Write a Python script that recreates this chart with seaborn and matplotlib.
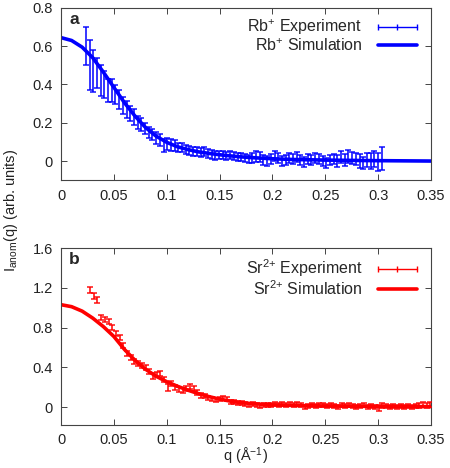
import numpy as np
import matplotlib
matplotlib.use("Agg")
import matplotlib.pyplot as plt
from matplotlib.lines import Line2D
import seaborn as sns

# simulation curves
q_sim = [0.00, 0.01, 0.02, 0.03, 0.04, 0.05, 0.06, 0.07, 0.08, 0.09,
         0.10, 0.11, 0.12, 0.13, 0.14, 0.15, 0.16, 0.17, 0.18, 0.19,
         0.20, 0.22, 0.25, 0.28, 0.30, 0.35]
rb_sim = [0.645, 0.630, 0.595, 0.540, 0.465, 0.385, 0.305, 0.235, 0.175, 0.130,
          0.098, 0.075, 0.060, 0.048, 0.040, 0.033, 0.027, 0.022, 0.018, 0.015,
          0.012, 0.008, 0.005, 0.003, 0.002, 0.000]
sr_sim = [1.030, 1.010, 0.965, 0.895, 0.810, 0.710, 0.580, 0.470, 0.380, 0.310,
          0.255, 0.210, 0.170, 0.135, 0.105, 0.080, 0.060, 0.045, 0.035, 0.028,
          0.022, 0.016, 0.011, 0.008, 0.006, 0.004]

# Rb+ experiment
q_rb = [0.0235, 0.0270, 0.0305, 0.0340, 0.0375, 0.0410, 0.0445, 0.0480, 0.0515, 0.0550,
        0.0585, 0.0620, 0.0655, 0.0690, 0.0725, 0.0760, 0.0795, 0.0830, 0.0865, 0.0900,
        0.0935, 0.0970, 0.1005, 0.1040, 0.1075, 0.1110, 0.1145, 0.1180, 0.1215, 0.1250,
        0.1285, 0.1320, 0.1355, 0.1390, 0.1425, 0.1460, 0.1495, 0.1530, 0.1565, 0.1600,
        0.1635, 0.1670, 0.1705, 0.1740, 0.1775, 0.1810, 0.1845, 0.1880, 0.1915, 0.1950,
        0.1985, 0.2020, 0.2055, 0.2090, 0.2125, 0.2160, 0.2195, 0.2230, 0.2265, 0.2300,
        0.2335, 0.2370, 0.2405, 0.2440, 0.2475, 0.2510, 0.2545, 0.2580, 0.2615, 0.2650,
        0.2685, 0.2720, 0.2755, 0.2790, 0.2825, 0.2860, 0.2895, 0.2930, 0.2965, 0.3000,
        0.3035]
rb_exp = [0.600, 0.500, 0.470, 0.460, 0.420, 0.400, 0.370, 0.370, 0.350, 0.320,
          0.290, 0.270, 0.250, 0.230, 0.200, 0.190, 0.170, 0.150, 0.140, 0.120,
          0.110, 0.080, 0.090, 0.085, 0.080, 0.070, 0.070, 0.060, 0.055, 0.050,
          0.050, 0.045, 0.050, 0.040, 0.035, 0.030, 0.030, 0.030, 0.025, 0.030,
          0.025, 0.020, 0.020, 0.015, 0.010, 0.015, 0.025, 0.020, 0.005, 0.000,
          0.010, 0.025, 0.015, 0.000, 0.005, 0.015, 0.010, 0.020, 0.005, -0.005,
          0.010, 0.005, 0.015, 0.010, 0.000, -0.010, 0.005, 0.010, 0.000, 0.020,
          0.005, 0.025, 0.015, 0.010, 0.000, -0.010, 0.005, 0.000, 0.010, -0.005,
          0.015]
rb_err = [0.100, 0.130, 0.110, 0.080, 0.080, 0.070, 0.060, 0.060, 0.050, 0.050,
          0.045, 0.045, 0.040, 0.040, 0.035, 0.035, 0.030, 0.030, 0.030, 0.030,
          0.030, 0.035, 0.030, 0.030, 0.030, 0.025, 0.025, 0.025, 0.025, 0.025,
          0.025, 0.022, 0.025, 0.025, 0.022, 0.022, 0.020, 0.020, 0.020, 0.020,
          0.020, 0.020, 0.020, 0.020, 0.020, 0.025, 0.030, 0.025, 0.025, 0.025,
          0.025, 0.025, 0.025, 0.025, 0.025, 0.025, 0.025, 0.025, 0.025, 0.025,
          0.025, 0.025, 0.025, 0.025, 0.025, 0.025, 0.025, 0.025, 0.030, 0.030,
          0.030, 0.035, 0.030, 0.030, 0.035, 0.030, 0.035, 0.040, 0.040, 0.045,
          0.060]

# Sr2+ experiment
q_sr = [0.0275, 0.0310, 0.0345, 0.0380, 0.0415, 0.0450, 0.0485, 0.0520, 0.0555, 0.0590,
        0.0625, 0.0660, 0.0695, 0.0730, 0.0765, 0.0800, 0.0835, 0.0870, 0.0905, 0.0940,
        0.0975, 0.1010, 0.1045, 0.1080, 0.1115, 0.1150, 0.1185, 0.1220, 0.1255, 0.1290,
        0.1325, 0.1360, 0.1395, 0.1430, 0.1465, 0.1500, 0.1535, 0.1570, 0.1605, 0.1640,
        0.1675, 0.1710, 0.1745, 0.1780, 0.1815, 0.1850, 0.1885, 0.1920, 0.1955, 0.1990,
        0.2025, 0.2060, 0.2095, 0.2130, 0.2165, 0.2200, 0.2235, 0.2270, 0.2305, 0.2340,
        0.2375, 0.2410, 0.2445, 0.2480, 0.2515, 0.2550, 0.2585, 0.2620, 0.2655, 0.2690,
        0.2725, 0.2760, 0.2795, 0.2830, 0.2865, 0.2900, 0.2935, 0.2970, 0.3005, 0.3040,
        0.3075, 0.3110, 0.3145, 0.3180, 0.3215, 0.3250, 0.3285, 0.3320, 0.3355, 0.3390,
        0.3425, 0.3460, 0.3495]
sr_exp = [1.180, 1.120, 1.080, 0.900, 0.880, 0.860, 0.800, 0.740, 0.700, 0.620,
          0.540, 0.500, 0.460, 0.440, 0.420, 0.400, 0.360, 0.310, 0.330, 0.340,
          0.280, 0.200, 0.240, 0.200, 0.180, 0.170, 0.190, 0.210, 0.190, 0.150,
          0.120, 0.110, 0.090, 0.080, 0.070, 0.080, 0.090, 0.080, 0.050, 0.050,
          0.040, 0.040, 0.030, 0.020, 0.030, 0.020, 0.010, 0.020, 0.020, 0.020,
          0.030, 0.020, 0.030, 0.020, 0.030, 0.020, 0.030, 0.020, 0.000, 0.010,
          0.020, 0.010, 0.020, 0.020, 0.010, 0.020, 0.010, 0.000, 0.020, 0.010,
          0.020, 0.010, 0.000, 0.010, 0.020, 0.000, 0.010, 0.000, -0.010, 0.020,
          0.010, 0.000, 0.010, 0.000, 0.010, 0.000, 0.010, 0.000, 0.010, 0.020,
          0.030, 0.020, 0.030]
sr_err = [0.030, 0.030, 0.030, 0.025, 0.025, 0.025, 0.025, 0.025, 0.025, 0.025,
          0.025, 0.025, 0.025, 0.025, 0.025, 0.025, 0.025, 0.030, 0.025, 0.025,
          0.025, 0.035, 0.025, 0.025, 0.025, 0.025, 0.025, 0.025, 0.025, 0.025,
          0.025, 0.020, 0.020, 0.020, 0.020, 0.020, 0.020, 0.020, 0.020, 0.020,
          0.020, 0.020, 0.020, 0.020, 0.020, 0.020, 0.020, 0.020, 0.020, 0.020,
          0.020, 0.020, 0.020, 0.020, 0.020, 0.020, 0.020, 0.020, 0.020, 0.020,
          0.020, 0.020, 0.020, 0.020, 0.020, 0.020, 0.020, 0.020, 0.020, 0.020,
          0.020, 0.020, 0.020, 0.020, 0.020, 0.020, 0.020, 0.020, 0.030, 0.025,
          0.020, 0.020, 0.020, 0.020, 0.020, 0.020, 0.020, 0.020, 0.020, 0.025,
          0.025, 0.025, 0.025]

x_ticks = [0, 0.05, 0.1, 0.15, 0.2, 0.25, 0.3, 0.35]
x_labels = ["0", "0.05", "0.1", "0.15", "0.2", "0.25", "0.3", "0.35"]
rb_yticks = [0, 0.2, 0.4, 0.6, 0.8]
rb_ylabels = ["0", "0.2", "0.4", "0.6", "0.8"]
sr_yticks = [0, 0.4, 0.8, 1.2, 1.6]
sr_ylabels = ["0", "0.4", "0.8", "1.2", "1.6"]

sns.set_style("ticks")
plt.rcParams["font.family"] = ["Liberation Sans", "DejaVu Sans"]
plt.rcParams["mathtext.fontset"] = "custom"
plt.rcParams["mathtext.rm"] = "Liberation Sans"
plt.rcParams["mathtext.it"] = "Liberation Sans"

fig = plt.figure(figsize=(4.5, 4.68), dpi=100)
ax1 = fig.add_axes([0.1356, 0.615, 0.822, 0.368])
ax2 = fig.add_axes([0.1356, 0.092, 0.822, 0.378])


def panel(ax, q, y, err, ys, color, ion, letter, ylim, yticks, ylabels):
    sns.lineplot(x=q_sim, y=ys, ax=ax, color=color, lw=2.6, zorder=2)
    ax.errorbar(q, y, yerr=err, fmt="none", ecolor=color, elinewidth=1.3,
                capsize=2.5, capthick=1.2, alpha=0.85, zorder=3)
    ax.set_xlim(0, 0.35)
    ax.set_ylim(*ylim)
    ax.set_xticks(x_ticks)
    ax.set_xticklabels(x_labels)
    ax.set_yticks(yticks)
    ax.set_yticklabels(ylabels)
    ax.tick_params(direction="in", top=True, right=True, length=4, width=0.7,
                   labelsize=10.5, color="#444444", labelcolor="#222222")
    ax.tick_params(axis="x", pad=6)
    ax.tick_params(axis="y", pad=6)
    for s in ax.spines.values():
        s.set_color("#444444")
        s.set_linewidth(0.8)
    ax.text(0.022, 0.975, letter, transform=ax.transAxes, fontsize=12.5,
            fontweight="bold", va="top", ha="left")
    h_exp = Line2D([], [], color=color, lw=1.0, marker="|", markersize=5,
                   markeredgewidth=1.0)
    h_sim = Line2D([], [], color=color, lw=2.6)
    ax.legend([h_exp, h_sim], [ion + " Experiment", ion + " Simulation"],
              loc="upper right", frameon=False, markerfirst=False, numpoints=3,
              handlelength=3.0, handletextpad=0.7, fontsize=11.5,
              labelspacing=0.0, borderaxespad=0.2)


panel(ax1, q_rb, rb_exp, rb_err, rb_sim, "#0000ff", "Rb$^{+}$", "a",
      (-0.1, 0.8), rb_yticks, rb_ylabels)
panel(ax2, q_sr, sr_exp, sr_err, sr_sim, "#ff0000", "Sr$^{2{+}}$", "b",
      (-0.18, 1.6), sr_yticks, sr_ylabels)

ax1.set_xlabel("")
ax1.set_ylabel("")
ax2.set_ylabel("")
ax2.set_xlabel("q (Å$^{-1}$)", fontsize=10.5, labelpad=-1, color="#222222")
fig.text(0.025, 1 - 210 / 468, "I$_{\\mathrm{anom}}$(q) (arb. units)",
         rotation=90, va="center", ha="center", fontsize=10.5, color="#222222")

fig.savefig("out.png", dpi=100)
